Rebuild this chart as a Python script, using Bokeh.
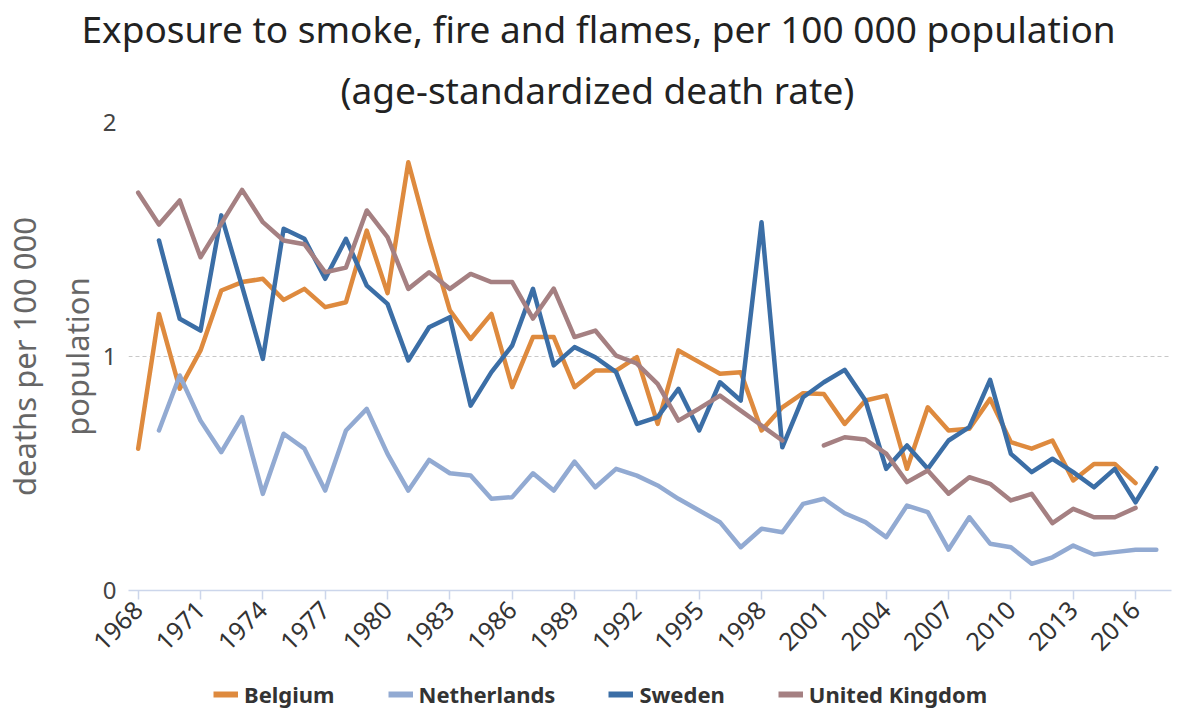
import math
from bokeh.plotting import figure
from bokeh.layouts import column
from bokeh.models import FixedTicker, Legend, LegendItem, Range1d, ColumnDataSource, Title
from bokeh.embed import file_html
from bokeh.resources import INLINE

nan = float("nan")

years = list(range(1968, 2018))

belgium = [0.606, 1.182, 0.862, 1.026, 1.282, 1.318, 1.332, 1.242, 1.289, 1.211,
           1.232, 1.538, 1.271, 1.830, 1.500, 1.197, 1.075, 1.182, 0.869, 1.083,
           1.083, 0.869, 0.940, 0.940, 0.997, 0.712, 1.026, 0.976, 0.926, 0.933,
           0.684, 0.783, 0.843, 0.840, 0.712, 0.812, 0.833, 0.520, 0.783, 0.684,
           0.691, 0.819, 0.634, 0.606, 0.641, 0.470, 0.541, 0.541, 0.459, nan]

netherlands = [nan, 0.684, 0.919, 0.726, 0.591, 0.741, 0.413, 0.670, 0.606, 0.427,
               0.684, 0.776, 0.584, 0.427, 0.558, 0.501, 0.491, 0.392, 0.399, 0.501,
               0.427, 0.551, 0.441, 0.520, 0.491, 0.449, 0.392, 0.342, 0.292, 0.185,
               0.264, 0.249, 0.370, 0.392, 0.330, 0.292, 0.228, 0.363, 0.335, 0.175,
               0.313, 0.200, 0.185, 0.114, 0.142, 0.192, 0.154, 0.164, 0.174, 0.174]

sweden = [nan, 1.496, 1.161, 1.111, 1.603, 1.300, 0.990, 1.546, 1.503, 1.332,
          1.503, 1.303, 1.225, 0.983, 1.125, 1.168, 0.790, 0.933, 1.047, 1.289,
          0.962, 1.040, 0.997, 0.933, 0.712, 0.741, 0.862, 0.684, 0.890, 0.812,
          1.574, 0.612, 0.826, 0.890, 0.943, 0.812, 0.520, 0.620, 0.520, 0.641,
          0.698, 0.900, 0.584, 0.506, 0.563, 0.506, 0.441, 0.520, 0.377, 0.523]

united_kingdom = [1.700, 1.564, 1.667, 1.424, 1.568, 1.712, 1.574, 1.496, 1.480, 1.360,
                  1.380, 1.624, 1.510, 1.289, 1.360, 1.289, 1.353, 1.318, 1.318, 1.162,
                  1.290, 1.083, 1.111, 1.004, 0.970, 0.883, 0.726, 0.778, 0.833, 0.769,
                  0.705, 0.641, nan, 0.620, 0.655, 0.645, 0.585, 0.463, 0.513, 0.414,
                  0.484, 0.456, 0.385, 0.413, 0.288, 0.349, 0.313, 0.313, 0.353, nan]

series_names = ["Belgium", "Netherlands", "Sweden", "United Kingdom"]
series_values = [belgium, netherlands, sweden, united_kingdom]
series_colors = ["#DE8A3E", "#92AAD2", "#3B6EA6", "#A58082"]

x_tick_years = list(range(1968, 2017, 3))
y_ticks = [0, 1, 2]

title_line1 = "Exposure to smoke, fire and flames, per 100 000 population"
title_line2 = "(age-standardized death rate)"
y_label = "deaths per 100 000\npopulation"

FONT = "Noto Sans"
TOTAL_W = 1180
LEFT, TOP, FW, FH, BOTTOM = 127, 121, 1044, 469, 86
RIGHT = TOTAL_W - LEFT - FW
MAIN_H = TOP + FH + BOTTOM

# ---------- main chart ----------
p = figure(width=TOTAL_W, height=MAIN_H,
           x_range=Range1d(1967.534, 2017.73), y_range=Range1d(0, 2.0),
           output_backend="svg", toolbar_location=None, title=None,
           min_border_left=LEFT, min_border_right=RIGHT,
           min_border_top=TOP, min_border_bottom=BOTTOM)
p.outline_line_color = None
p.background_fill_color = "white"
p.border_fill_color = "white"

for name, vals, col in zip(series_names, series_values, series_colors):
    src = ColumnDataSource(dict(x=years, y=vals))
    p.line("x", "y", source=src, line_color=col, line_width=4.5,
           line_join="round", line_cap="round")

xa = p.xaxis[0]
xa.ticker = FixedTicker(ticks=x_tick_years)
xa.axis_line_color = "#CCD6EB"
xa.axis_line_width = 1.5
xa.major_tick_line_color = "#CCD6EB"
xa.major_tick_line_width = 1.5
xa.major_tick_in = 0
xa.major_tick_out = 9
xa.minor_tick_line_color = None
xa.major_label_orientation = math.pi / 4
xa.major_label_standoff = 6
xa.major_label_text_font = FONT
xa.major_label_text_font_size = "25px"
xa.major_label_text_color = "#333333"

ya = p.yaxis[0]
ya.ticker = FixedTicker(ticks=y_ticks)
ya.axis_line_color = None
ya.major_tick_line_color = None
ya.major_tick_out = 0
ya.major_tick_in = 0
ya.minor_tick_line_color = None
ya.major_label_text_font = FONT
ya.major_label_text_font_size = "24px"
ya.major_label_text_color = "#444444"
ya.major_label_standoff = 12
ya.axis_label = y_label
ya.axis_label_text_font = FONT
ya.axis_label_text_font_size = "31px"
ya.axis_label_text_font_style = "normal"
ya.axis_label_text_color = "#666666"
ya.axis_label_text_line_height = 1.25
ya.axis_label_standoff = 2

p.xgrid.grid_line_color = None
p.ygrid.grid_line_color = "#C8C8C8"
p.ygrid.grid_line_dash = "4 3"
p.ygrid.grid_line_width = 1

# titles: inner line first, then outer line; left-aligned with offsets so that
# both lines are centred on the page rather than on the frame
t2 = Title(text=title_line2, align="left", offset=212, standoff=16,
           text_font=FONT, text_font_size="37px", text_font_style="normal",
           text_color="#222222")
t1 = Title(text=title_line1, align="left", offset=-47, standoff=0,
           text_font=FONT, text_font_size="37px", text_font_style="normal",
           text_color="#222222")
p.add_layout(t2, "above")
p.add_layout(t1, "above")

# ---------- legend strip ----------
LEG_H = 712 - MAIN_H
pl = figure(width=TOTAL_W, height=LEG_H, x_range=Range1d(0, 1), y_range=Range1d(0, 1),
            x_axis_type=None, y_axis_type=None, output_backend="svg",
            toolbar_location=None, title=None,
            min_border_left=LEFT, min_border_right=RIGHT,
            min_border_top=0, min_border_bottom=0)
pl.outline_line_color = None
pl.xgrid.grid_line_color = None
pl.ygrid.grid_line_color = None
items = []
for name, col in zip(series_names, series_colors):
    # placeholder renderer (outside the visible range) that only supplies the legend swatch
    r = pl.line(x=[-5, -4], y=[-5, -5], line_color=col, line_width=6)
    items.append(LegendItem(label=name, renderers=[r]))
legend = Legend(items=items, orientation="horizontal", location=(212 - LEFT, 3),
                label_text_font=FONT, label_text_font_style="bold",
                label_text_font_size="22px", label_text_color="#333333",
                label_standoff=6, glyph_width=25, glyph_height=10, spacing=53,
                padding=0, margin=0, border_line_color=None, background_fill_alpha=0)
pl.add_layout(legend, "center")

layout = column(p, pl, spacing=0)
open("out.html", "w").write(file_html(layout, INLINE))
